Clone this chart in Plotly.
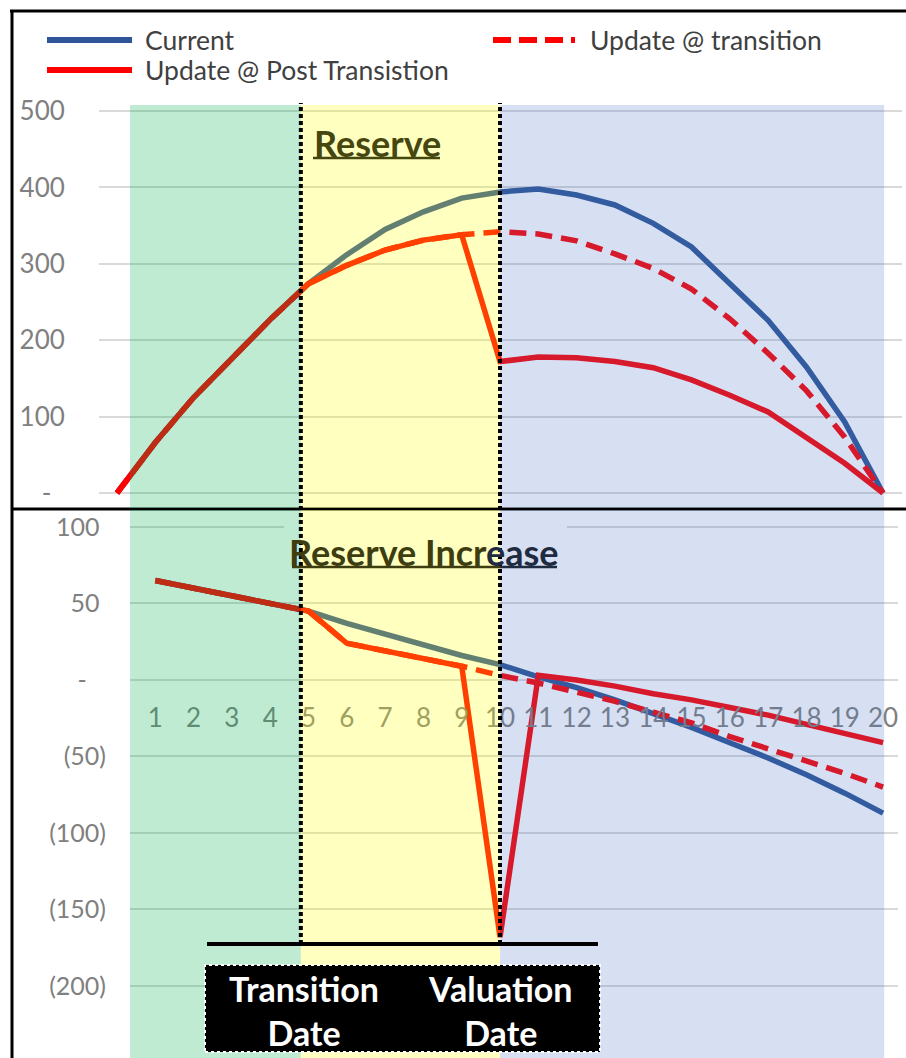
import plotly.graph_objects as go

# ---- data ----
periods = list(range(0, 21))
inc_periods = list(range(1, 21))

reserve_current = [0, 66, 125, 177, 227, 274, 312, 345, 368, 386, 394,
                   398, 390, 377, 353, 322, 275, 226, 165, 93, 0]
reserve_post = [0, 66, 125, 177, 227, 274, 298, 318, 331, 338, 172,
                178, 177, 172, 164, 148, 128, 106, 73, 39, 0]
reserve_trans = [0, 66, 125, 177, 227, 274, 298, 318, 331, 338, 342,
                 339, 330, 313, 294, 267, 228, 183, 134, 73, 0]

increase_current = [65, 60, 55, 50, 45, 37, 30, 23, 16, 10,
                    2, -5, -13, -22, -31, -41, -51, -62, -74, -87]
increase_post = [65, 60, 55, 50, 45, 24, 19, 14, 9, -168,
                 3, 0, -4, -9, -13, -18, -23, -29, -35, -41]
increase_trans = [65, 60, 55, 50, 45, 24, 19, 14, 9, 3,
                  -2, -8, -14, -21, -28, -37, -45, -53, -61, -70]

top_tick_vals = [0, 100, 200, 300, 400, 500]
top_tick_text = ["-\u00a0\u00a0", "100", "200", "300", "400", "500"]
bot_tick_vals = [100, 50, 0, -50, -100, -150, -200]
bot_tick_text = ["100\u00a0", "50\u00a0", "-\u00a0\u00a0\u00a0", "(50)", "(100)", "(150)", "(200)"]

series_names = ["Current", "Update @ transition", "Update @ Post Transistion"]

# ---- styling ----
W, H = 906, 1058
BLUE = "#2f5597"
RED = "#ff0000"
GRID = "#d9d9d9"
TICK = "#808080"
FONT = "Lato"
LW = 5.5

TRANSITION_X = 4.8
VALUATION_X = 10.0
bands = [(0.34, TRANSITION_X, "rgba(0,176,80,0.25)"),
         (TRANSITION_X, VALUATION_X, "rgba(255,255,0,0.25)"),
         (VALUATION_X, 20.03, "rgba(68,114,196,0.22)")]


def px(p):
    return p / W


def py(p):
    return 1 - p / H


fig = go.Figure()

# top: reserve
fig.add_trace(go.Scatter(x=periods, y=reserve_current, name=series_names[0], mode="lines",
                         line=dict(color=BLUE, width=LW), xaxis="x", yaxis="y"))
fig.add_trace(go.Scatter(x=periods, y=reserve_trans, name=series_names[1], mode="lines",
                         line=dict(color=RED, width=LW, dash="17px,9px"), xaxis="x", yaxis="y"))
fig.add_trace(go.Scatter(x=periods, y=reserve_post, name=series_names[2], mode="lines",
                         line=dict(color=RED, width=LW), xaxis="x", yaxis="y"))

# bottom: reserve increase
fig.add_trace(go.Scatter(x=inc_periods, y=increase_current, name=series_names[0], mode="lines",
                         line=dict(color=BLUE, width=LW), xaxis="x2", yaxis="y2"))
fig.add_trace(go.Scatter(x=inc_periods, y=increase_post, name=series_names[2], mode="lines",
                         line=dict(color=RED, width=LW), xaxis="x2", yaxis="y2"))
fig.add_trace(go.Scatter(x=inc_periods, y=increase_trans, name=series_names[1], mode="lines",
                         line=dict(color=RED, width=LW, dash="17px,9px"), xaxis="x2", yaxis="y2"))

shapes = []
# the title box hides part of the top gridline in the lower panel
shapes.append(dict(type="rect", xref="x2", yref="y2", x0=4.36, x1=11.75, y0=97, y1=103,
                   fillcolor="white", line=dict(width=0), layer="between"))
# separator between the two panels (tinted by the bands like the original)
shapes.append(dict(type="line", xref="paper", yref="paper", x0=px(12), x1=1, y0=py(509), y1=py(509),
                   line=dict(color="black", width=3)))
# coloured period bands, drawn over the lines
for x0, x1, col in bands:
    for xr, yr in (("x", "y domain"), ("x2", "y2 domain")):
        shapes.append(dict(type="rect", xref=xr, yref=yr, x0=x0, x1=x1, y0=0, y1=1,
                           fillcolor=col, line=dict(width=0), layer="above"))
# dotted date markers
for xv in (TRANSITION_X, VALUATION_X):
    shapes.append(dict(type="line", xref="x", yref="paper", x0=xv, x1=xv, y0=py(944), y1=py(103),
                       line=dict(color="black", width=4, dash="4px,3px"), layer="above"))
# bracket line and label box
shapes.append(dict(type="line", xref="paper", yref="paper", x0=px(207), x1=px(598), y0=py(944), y1=py(944),
                   line=dict(color="black", width=4), layer="above"))
shapes.append(dict(type="rect", xref="paper", yref="paper", x0=px(205), x1=px(600), y0=py(1052), y1=py(965),
                   fillcolor="black", line=dict(color="white", width=2, dash="dot"), layer="above"))
# frame
shapes.append(dict(type="line", xref="paper", yref="paper", x0=px(12), x1=px(12), y0=0, y1=py(10),
                   line=dict(color="black", width=3), layer="above"))
shapes.append(dict(type="line", xref="paper", yref="paper", x0=px(10), x1=1, y0=py(11), y1=py(11),
                   line=dict(color="black", width=3), layer="above"))
# legend samples
shapes.append(dict(type="line", xref="paper", yref="paper", x0=px(47), x1=px(132), y0=py(40), y1=py(40),
                   line=dict(color=BLUE, width=6), layer="above"))
shapes.append(dict(type="line", xref="paper", yref="paper", x0=px(47), x1=px(132), y0=py(70), y1=py(70),
                   line=dict(color=RED, width=6), layer="above"))
shapes.append(dict(type="line", xref="paper", yref="paper", x0=px(493), x1=px(575), y0=py(40), y1=py(40),
                   line=dict(color=RED, width=6, dash="18px,8px"), layer="above"))
# title underlines
shapes.append(dict(type="line", xref="paper", yref="paper", x0=px(313), x1=px(440), y0=py(158), y1=py(158),
                   line=dict(color="#46460f", width=2.5), layer="above"))
shapes.append(dict(type="line", xref="paper", yref="paper", x0=px(292), x1=px(500), y0=py(567), y1=py(567),
                   line=dict(color="#3d3d10", width=2.5), layer="above"))
shapes.append(dict(type="line", xref="paper", yref="paper", x0=px(500), x1=px(557), y0=py(567), y1=py(567),
                   line=dict(color="#1f2b40", width=2.5), layer="above"))

annotations = [
    dict(text=series_names[0], x=px(143), y=py(40)),
    dict(text=series_names[2], x=px(143), y=py(70)),
    dict(text=series_names[1], x=px(588), y=py(40)),
]
for a in annotations:
    a.update(xref="paper", yref="paper", xanchor="left", yanchor="middle", showarrow=False,
             font=dict(family=FONT, size=26.5, color="#404040"))
annotations += [
    dict(text="<b>Reserve</b>", x=px(377), y=py(143), font=dict(family=FONT, size=36, color="#46460f")),
    dict(text="<b><span style='color:#3d3d10'>Reserve Incr</span><span style='color:#1f2b40'>ease</span></b>",
         x=px(424), y=py(552), font=dict(family=FONT, size=36)),
    dict(text="<b>Transition<br>Date</b>", x=px(304), y=py(1010), font=dict(family=FONT, size=34, color="white")),
    dict(text="<b>Valuation<br>Date</b>", x=px(500), y=py(1010), font=dict(family=FONT, size=34, color="white")),
]
for a in annotations[3:]:
    a.update(xref="paper", yref="paper", xanchor="center", yanchor="middle", showarrow=False)

fig.update_layout(
    width=W, height=H, margin=dict(l=0, r=0, t=0, b=0, autoexpand=False),
    paper_bgcolor="white", plot_bgcolor="white", showlegend=False,
    font=dict(family=FONT, size=26, color=TICK),
    xaxis=dict(domain=[px(99), px(902)], range=[-0.47, 20.496], anchor="y", automargin=False,
               showgrid=False, zeroline=False, showticklabels=False, fixedrange=True),
    yaxis=dict(domain=[py(508), py(105)], range=[-19.63, 507.85], anchor="x", automargin=False,
               tickvals=top_tick_vals, ticktext=top_tick_text, gridcolor=GRID, gridwidth=2,
               zeroline=False, ticks="outside", ticklen=28, tickcolor="rgba(0,0,0,0)"),
    xaxis2=dict(domain=[px(130), px(898)], range=[0.339, 20.39], anchor="free", position=py(680),
                automargin=False, tickvals=inc_periods, showgrid=False, zeroline=False,
                ticks="outside", ticklen=15, tickcolor="rgba(0,0,0,0)", tickfont=dict(size=26)),
    yaxis2=dict(domain=[0, py(510)], range=[-247.1, 111.1], anchor="x2", automargin=False,
                tickvals=bot_tick_vals, ticktext=bot_tick_text, gridcolor=GRID, gridwidth=2,
                tickfont=dict(size=25),
                zeroline=False, ticks="outside", ticklen=18, tickcolor="rgba(0,0,0,0)"),
    shapes=shapes, annotations=annotations,
)

# pin the chart to the page corner (no body margin)
pin = ("document.body.style.margin='0';"
       "var gd=document.getElementById('{plot_id}');"
       "gd.style.position='absolute';gd.style.left='0px';gd.style.top='0px';")
fig.write_html("out.html", config={"displayModeBar": False}, post_script=pin)
